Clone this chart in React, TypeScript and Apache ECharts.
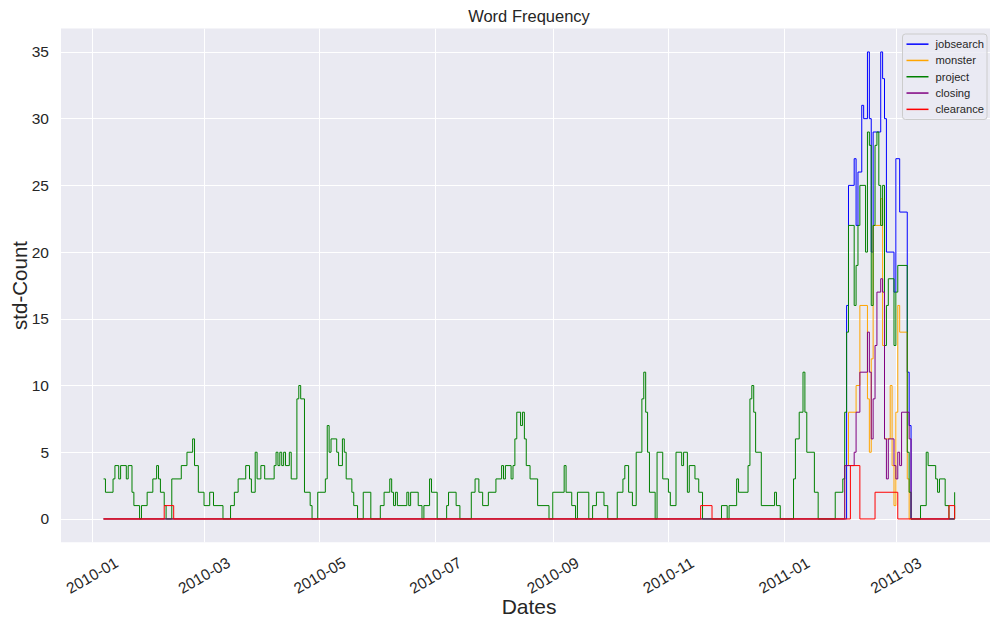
import React, { useEffect, useRef } from 'react';
import * as echarts from 'echarts';

// Day offsets are counted from 2010-01-01; each pair is [day, value] at a change point.
const seriesNames = ['jobsearch', 'monster', 'project', 'closing', 'clearance'];
const seriesColors = ['#0000FF', '#FFA500', '#008000', '#800080', '#FF0000'];

const jobsearchSteps = [
  [6, 0], [398, 16], [399, 25], [402, 27], [403, 22], [404, 26], [406, 31], [407, 30], [409, 35],
  [410, 30], [411, 20], [412, 29], [416, 35], [417, 33], [418, 30], [419, 20], [423, 17], [424, 27],
  [426, 23], [430, 11], [431, 7], [432, 0], [455, 0],
];

const monsterSteps = [
  [6, 0], [397, 4], [399, 8], [403, 10], [405, 16], [409, 9], [410, 5], [411, 12], [412, 22],
  [416, 24], [417, 13], [418, 6], [421, 10], [422, 4], [423, 1], [424, 8], [425, 16], [426, 14],
  [430, 3], [431, 0], [455, 0],
];

const projectSteps = [
  [6, 3], [7, 2], [11, 3], [12, 4], [14, 3], [15, 4], [18, 3], [19, 4], [21, 2], [22, 1], [25, 0],
  [26, 1], [29, 2], [32, 3], [34, 4], [35, 3], [36, 2], [38, 1], [39, 0], [42, 3], [47, 4], [50, 5],
  [53, 6], [54, 4], [56, 2], [59, 1], [62, 2], [64, 1], [69, 0], [73, 1], [75, 2], [77, 3], [81, 4],
  [83, 3], [84, 2], [86, 5], [87, 3], [89, 4], [91, 3], [96, 4], [97, 5], [98, 4], [99, 5], [100, 4],
  [101, 5], [102, 4], [104, 5], [105, 3], [108, 9], [109, 10], [110, 9], [112, 2], [115, 1], [116, 0],
  [119, 2], [123, 3], [124, 7], [125, 5], [126, 6], [129, 5], [130, 4], [132, 6], [133, 5], [134, 3],
  [137, 2], [138, 1], [140, 0], [143, 2], [147, 0], [152, 1], [154, 2], [157, 3], [158, 2], [159, 1],
  [160, 2], [161, 1], [166, 2], [167, 1], [168, 2], [172, 1], [174, 0], [175, 1], [178, 3], [179, 2],
  [182, 0], [187, 1], [188, 2], [192, 1], [194, 0], [200, 2], [202, 3], [204, 2], [206, 1], [209, 2],
  [213, 3], [216, 4], [217, 3], [218, 4], [221, 3], [222, 4], [223, 6], [224, 8], [226, 7], [227, 8],
  [228, 6], [229, 4], [231, 3], [235, 1], [241, 0], [243, 2], [249, 4], [250, 2], [253, 1], [255, 0],
  [256, 2], [262, 0], [264, 1], [266, 2], [270, 1], [272, 0], [277, 2], [280, 3], [281, 4], [283, 2],
  [285, 1], [287, 5], [290, 9], [291, 11], [292, 8], [293, 5], [294, 2], [297, 0], [298, 5], [301, 3],
  [304, 2], [305, 1], [308, 5], [311, 4], [312, 5], [314, 2], [315, 4], [318, 3], [320, 2], [322, 0],
  [332, 1], [335, 0], [336, 1], [340, 3], [341, 2], [346, 4], [347, 9], [348, 10], [349, 8], [350, 5],
  [353, 1], [360, 2], [361, 1], [363, 0], [370, 3], [371, 6], [373, 8], [375, 11], [376, 8], [377, 5],
  [381, 2], [383, 0], [392, 2], [396, 3], [397, 8], [398, 14], [399, 22], [402, 16], [403, 19],
  [404, 22], [405, 25], [408, 20], [409, 29], [410, 28], [411, 16], [412, 22], [413, 28], [414, 29],
  [415, 25], [416, 22], [417, 25], [418, 13], [419, 16], [420, 18], [423, 13], [424, 17], [425, 19],
  [430, 5], [431, 2], [432, 0], [437, 1], [440, 5], [441, 4], [445, 3], [446, 2], [447, 3], [450, 1],
  [452, 0], [455, 2],
];

const closingSteps = [
  [6, 0], [397, 4], [402, 5], [403, 8], [405, 11], [409, 14], [410, 11], [411, 6], [412, 9], [413, 13],
  [414, 17], [416, 18], [417, 17], [418, 6], [419, 3], [420, 6], [423, 4], [424, 3], [425, 5], [426, 4],
  [427, 8], [431, 6], [432, 0], [455, 0],
];

const clearanceSteps = [
  [6, 0], [38, 1], [43, 0], [321, 1], [327, 0], [400, 4], [405, 0], [413, 2], [425, 0], [452, 1], [455, 0],
];

const xTickLabels = ['2010-01', '2010-03', '2010-05', '2010-07', '2010-09', '2010-11', '2011-01', '2011-03'];
const yTickValues = [0, 5, 10, 15, 20, 25, 30, 35];

const DAY = 86400000;
const BASE_UTC = Date.UTC(2010, 0, 1);
const X_MIN_DAY = -16.45;
const X_MAX_DAY = 477.45;

const allSteps = [jobsearchSteps, monsterSteps, projectSteps, closingSteps, clearanceSteps];

export default function App() {
  const ref = useRef<HTMLDivElement>(null);
  useEffect(() => {
    document.body.style.margin = '0';
    const chart = echarts.init(ref.current!, undefined, { renderer: 'svg' });
    const xTickDays = xTickLabels.map((s) => {
      const [y, m] = s.split('-').map(Number);
      return Math.round((Date.UTC(y, m - 1, 1) - BASE_UTC) / DAY);
    });
    const fmt = (v: number) => {
      const idx = xTickDays.findIndex((d) => Math.abs(d - v) < 0.5);
      return idx >= 0 ? xTickLabels[idx] : '';
    };
    const font = "'Liberation Sans', Arial, sans-serif";
    chart.setOption({
      animation: false,
      backgroundColor: '#ffffff',
      textStyle: { fontFamily: font },
      title: {
        text: 'Word Frequency',
        left: 529,
        top: 7,
        textAlign: 'center',
        padding: 0,
        textStyle: { fontSize: 16.5, fontWeight: 'normal', color: '#262626', fontFamily: font },
      },
      legend: {
        data: seriesNames,
        orient: 'vertical',
        right: 3,
        top: 34,
        align: 'left',
        icon: 'rect',
        itemWidth: 22,
        itemHeight: 1.5,
        itemGap: 4,
        padding: [4, 3, 4, 4],
        backgroundColor: 'rgba(234,234,242,0.8)',
        borderColor: '#CCCCCC',
        borderWidth: 1,
        borderRadius: 3,
        textStyle: { fontSize: 11.2, lineHeight: 12.3, color: '#262626', fontFamily: font, padding: [0, 0, 0, 2] },
      },
      grid: {
        left: 61,
        right: -7.2,
        top: 28.6,
        bottom: 76.7,
        show: true,
        backgroundColor: '#EAEAF2',
        borderWidth: 0,
        containLabel: false,
        outerBoundsMode: 'none',
      },
      xAxis: {
        type: 'value',
        min: X_MIN_DAY,
        max: X_MAX_DAY,
        name: 'Dates',
        nameLocation: 'middle',
        nameGap: 54,
        nameMoveOverlap: false,
        nameTextStyle: { fontSize: 21, color: '#262626', fontFamily: font },
        axisLine: { show: false },
        axisTick: { show: false, customValues: xTickDays },
        axisLabel: {
          customValues: xTickDays,
          formatter: (v: number) => fmt(v),
          rotate: 30,
          align: 'center',
          verticalAlign: 'middle',
          margin: 33,
          fontSize: 15.5,
          color: '#262626',
          fontFamily: font,
        },
        splitLine: { show: true, lineStyle: { color: '#FFFFFF', width: 1 } },
      },
      yAxis: {
        type: 'value',
        min: -1.75,
        max: 36.75,
        name: 'std-Count',
        nameLocation: 'middle',
        nameGap: 31,
        nameMoveOverlap: false,
        nameTextStyle: { fontSize: 20.5, color: '#262626', fontFamily: font },
        axisLine: { show: false },
        axisTick: { show: false, customValues: yTickValues },
        axisLabel: { customValues: yTickValues, fontSize: 15.5, color: '#262626', margin: 12, fontFamily: font },
        splitLine: { show: true, lineStyle: { color: '#FFFFFF', width: 1 } },
      },
      series: seriesNames.map((name, i) => ({
        name,
        type: 'line',
        step: 'end',
        symbol: 'none',
        showSymbol: false,
        silent: true,
        color: seriesColors[i],
        itemStyle: { color: seriesColors[i] },
        lineStyle: { width: 1, color: seriesColors[i] },
        data: allSteps[i].map(([d, v]) => [d, v]),
      })),
    });
    return () => chart.dispose();
  }, []);
  return <div ref={ref} style={{ position: 'fixed', left: 0, top: 0, width: 990, height: 619 }} />;
}
